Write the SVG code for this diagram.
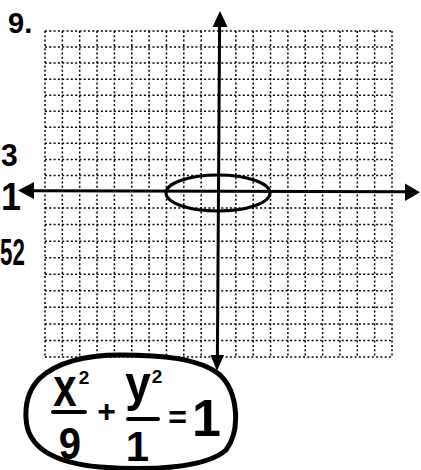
<svg xmlns="http://www.w3.org/2000/svg" width="421" height="470" viewBox="0 0 421 470">
<style>
.grid{stroke:#000;stroke-width:1.5;stroke-dasharray:2 2.3;fill:none}
.axis{stroke:#000;stroke-width:3;fill:none}
.hw{font-family:"Liberation Sans",Arial,sans-serif;font-weight:bold;fill:#000}
.bar{stroke:#000;stroke-width:4;stroke-linecap:round}
</style>
<rect width="421" height="470" fill="#fff"/>
<text id="num" class="hw" x="8" y="33" font-size="29">9.</text>
<g id="grid" class="grid">
<path d="M45 31V357M62.35 31V357M79.7 31V357M97.05 31V357M114.4 31V357M131.75 31V357M149.1 31V357M166.45 31V357M183.8 31V357M201.15 31V357M235.85 31V357M253.2 31V357M270.55 31V357M287.9 31V357M305.25 31V357M322.6 31V357M339.95 31V357M357.3 31V357M374.65 31V357M392 31V357"/>
<path d="M45 31H392M45 47.05H392M45 63.1H392M45 79.15H392M45 95.2H392M45 111.25H392M45 127.3H392M45 143.35H392M45 159.4H392M45 175.45H392M45 208.05H392M45 224.6H392M45 241.15H392M45 257.7H392M45 274.25H392M45 290.8H392M45 307.35H392M45 323.9H392M45 340.45H392M45 357H392"/>
</g>
<g id="axes">
<path class="axis" d="M219.6 26L217.4 356"/>
<polygon points="220,11 212.5,27 227.5,27"/>
<polygon points="217,371 210.5,355 224,355"/>
<path class="axis" d="M32 190.8L406 191.8"/>
<polygon points="18,190.5 34,182 34,199"/>
<polygon points="420,192.3 405,183.5 405,201"/>
</g>
<g id="curve">
<ellipse cx="218" cy="193" rx="52" ry="18" fill="none" stroke="#000" stroke-width="3"/>
</g>
<g id="notes">
<text class="hw" font-size="30" transform="translate(1,166) scale(1,1.05)">3</text>
<text class="hw" font-size="36" transform="translate(1,210) scale(1,1.08)">1</text>
<text class="hw" font-size="36" transform="translate(0,265) scale(0.62,1.05)">52</text>
</g>
<g id="equation">
<path d="M40 378C60 360 90 355 120 355C160 355 200 358 220 375C238 392 241 430 226 450C206 468 150 471 100 467C55 463 27 448 26 418C25 400 30 388 40 378Z" fill="none" stroke="#000" stroke-width="5"/>
<text class="hw" font-size="42" text-anchor="middle" transform="translate(65,406) scale(1,1.3)">x</text>
<text class="hw" x="84" y="384" font-size="19" text-anchor="middle">2</text>
<line class="bar" x1="53" y1="412" x2="85" y2="412"/>
<text class="hw" font-size="40" text-anchor="middle" transform="translate(70,459) scale(1,1.12)">9</text>
<text class="hw" x="106.5" y="422" font-size="32" text-anchor="middle">+</text>
<text class="hw" font-size="46" text-anchor="middle" transform="translate(138,401) scale(1,1.1)">y</text>
<text class="hw" x="157" y="383" font-size="19" text-anchor="middle">2</text>
<line class="bar" x1="128" y1="419" x2="158" y2="419"/>
<text class="hw" x="137.5" y="461" font-size="42" text-anchor="middle">1</text>
<text class="hw" x="177.5" y="428" font-size="32" text-anchor="middle">=</text>
<text class="hw" x="206.5" y="436" font-size="52" text-anchor="middle">1</text>
</g>
</svg>
